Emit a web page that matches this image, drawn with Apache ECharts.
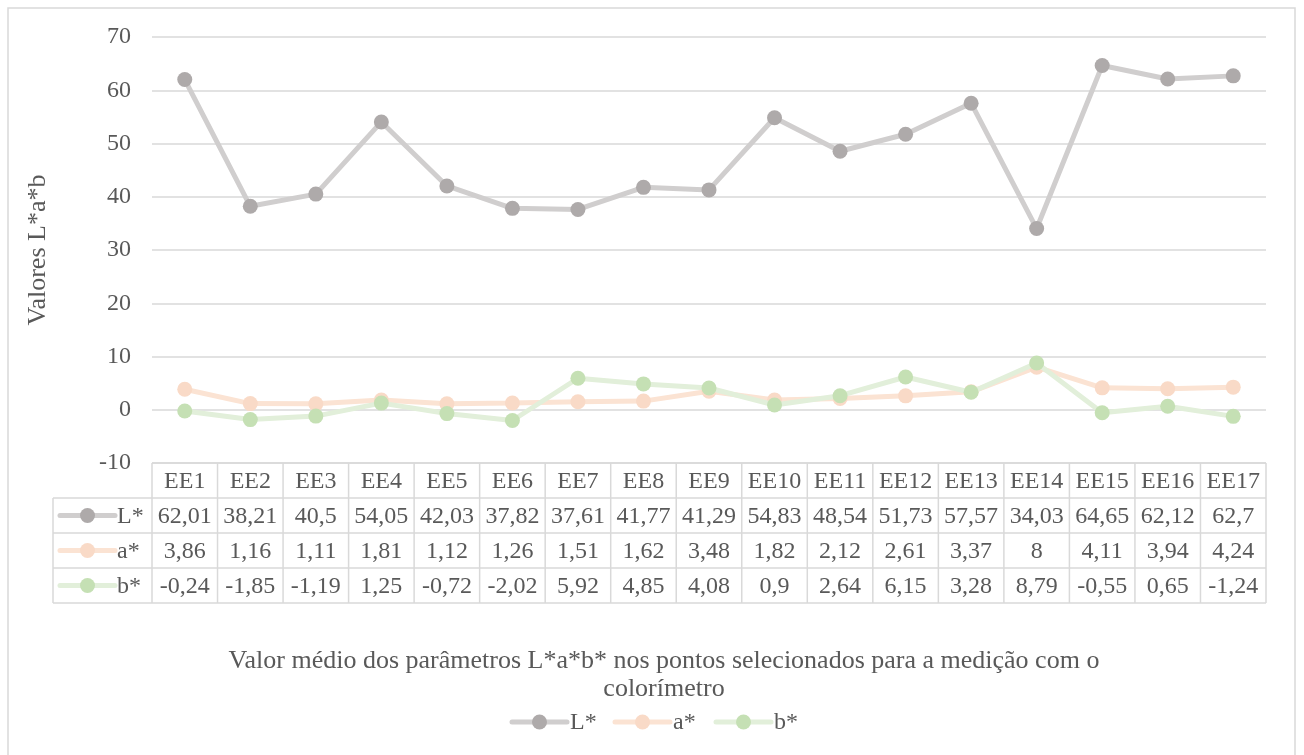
<!DOCTYPE html>
<html>
<head>
<meta charset="utf-8">
<script src="https://cdn.jsdelivr.net/npm/echarts@6/dist/echarts.min.js"></script>
<style>
  html, body { margin: 0; padding: 0; background: #ffffff; }
  #chart { width: 1304px; height: 755px; }
</style>
</head>
<body>
<div id="chart"></div>
<script>
// Pontos de medição
const categories = ['EE1','EE2','EE3','EE4','EE5','EE6','EE7','EE8','EE9','EE10','EE11','EE12','EE13','EE14','EE15','EE16','EE17'];
// Valores médios L*, a*, b*
const valuesL = [62.01, 38.21, 40.5, 54.05, 42.03, 37.82, 37.61, 41.77, 41.29, 54.83, 48.54, 51.73, 57.57, 34.03, 64.65, 62.12, 62.7];
const valuesA = [3.86, 1.16, 1.11, 1.81, 1.12, 1.26, 1.51, 1.62, 3.48, 1.82, 2.12, 2.61, 3.37, 8, 4.11, 3.94, 4.24];
const valuesB = [-0.24, -1.85, -1.19, 1.25, -0.72, -2.02, 5.92, 4.85, 4.08, 0.9, 2.64, 6.15, 3.28, 8.79, -0.55, 0.65, -1.24];
const seriesNames = ['L*', 'a*', 'b*'];
const yTicks = { min: -10, max: 70, interval: 10 };

const FONT = '"Liberation Serif", "Times New Roman", serif';
const TXT = '#595959';
const GRIDC = '#d9d9d9';
const lineColors = ['#d0cece', '#fbe3d3', '#e2efda'];
const markColors = ['#aeaaaa', '#f9dac7', '#c5e0b4'];
const seriesData = [valuesL, valuesA, valuesB];

// Valores em formato pt-BR (vírgula decimal)
const fmt = v => String(v).replace('.', ',');

const chart = echarts.init(document.getElementById('chart'), null, { renderer: 'canvas' });

const option = {
  animation: false,
  backgroundColor: '#ffffff',
  title: {
    text: 'Valor médio dos parâmetros L*a*b* nos pontos selecionados para a medição com o\ncolorímetro',
    left: 659, top: 642, textAlign: 'center',
    textStyle: { fontFamily: FONT, fontSize: 26, fontWeight: 'normal', color: TXT, lineHeight: 28 }
  },
  grid: { left: 152, right: 38, top: 37, bottom: 292, containLabel: false },
  xAxis: {
    type: 'category', data: categories, boundaryGap: true,
    axisLine: { show: false }, axisTick: { show: false }, axisLabel: { show: false }
  },
  yAxis: {
    type: 'value', min: yTicks.min, max: yTicks.max, interval: yTicks.interval,
    name: 'Valores L*a*b', nameLocation: 'middle', nameGap: 101, nameRotate: 90,
    nameTextStyle: { fontFamily: FONT, fontSize: 26, color: TXT },
    axisLine: { show: false }, axisTick: { show: false },
    axisLabel: { fontFamily: FONT, fontSize: 24, color: TXT, margin: 21 },
    splitLine: { lineStyle: { color: GRIDC, width: 1.5 } }
  },
  series: seriesNames.map((n, i) => ({
    name: n, type: 'line', data: seriesData[i],
    symbol: 'circle', symbolSize: 15, showAllSymbol: true,
    lineStyle: { color: lineColors[i], width: 5 },
    itemStyle: { color: markColors[i] },
    z: 2 + i
  }))
};
chart.setOption(option);

// Chave de série: linha grossa com marcador circular
function keyIcon(g, x, cy, r, w) {
  g.push({ type: 'line', shape: { x1: x, y1: cy, x2: x + w, y2: cy },
    style: { stroke: lineColors[r], lineWidth: 5, lineCap: 'round' }, silent: true });
  g.push({ type: 'circle', shape: { cx: x + w / 2, cy: cy, r: 7.5 }, style: { fill: markColors[r] }, silent: true });
}

// Tabela de dados sob o eixo horizontal, alinhada às categorias, e legenda
function buildTable() {
  const g = [];
  const top = chart.convertToPixel({ yAxisIndex: 0 }, yTicks.min);
  const x0 = chart.convertToPixel({ xAxisIndex: 0 }, 0);
  const x1 = chart.convertToPixel({ xAxisIndex: 0 }, 1);
  const bw = x1 - x0;
  const left = x0 - bw / 2;
  const right = left + bw * categories.length;
  const rowH = 35;
  const labelLeft = 53;
  const lineStyle = { stroke: GRIDC, lineWidth: 1.5 };
  const textStyleBase = { fontFamily: FONT, fontSize: 24, fill: TXT, align: 'center', verticalAlign: 'middle' };

  // linhas horizontais
  for (let r = 0; r <= 4; r++) {
    const y = top + r * rowH;
    g.push({ type: 'line', shape: { x1: r === 0 ? left : labelLeft, y1: y, x2: right, y2: y }, style: lineStyle, silent: true });
  }
  // linhas verticais
  for (let c = 0; c <= categories.length; c++) {
    const x = left + c * bw;
    g.push({ type: 'line', shape: { x1: x, y1: top, x2: x, y2: top + 4 * rowH }, style: lineStyle, silent: true });
  }
  g.push({ type: 'line', shape: { x1: labelLeft, y1: top + rowH, x2: labelLeft, y2: top + 4 * rowH }, style: lineStyle, silent: true });

  // cabeçalho
  categories.forEach((c, i) => {
    g.push({ type: 'text', x: chart.convertToPixel({ xAxisIndex: 0 }, i), y: top + rowH / 2 + 1,
      style: Object.assign({ text: c }, textStyleBase), silent: true });
  });
  // linhas de valores com chave da série
  seriesData.forEach((arr, r) => {
    const cy = top + (r + 1.5) * rowH;
    keyIcon(g, 60, cy, r, 55);
    g.push({ type: 'text', x: 117, y: cy + 1,
      style: Object.assign({}, textStyleBase, { text: seriesNames[r], align: 'left' }), silent: true });
    arr.forEach((v, i) => {
      g.push({ type: 'text', x: chart.convertToPixel({ xAxisIndex: 0 }, i), y: cy + 1,
        style: Object.assign({ text: fmt(v) }, textStyleBase), silent: true });
    });
  });

  // legenda
  const legendX = [512, 615, 716];
  seriesNames.forEach((n, r) => {
    const cy = 722;
    keyIcon(g, legendX[r], cy, r, 55);
    g.push({ type: 'text', x: legendX[r] + 58, y: cy + 1,
      style: Object.assign({}, textStyleBase, { text: n, align: 'left' }), silent: true });
  });

  // moldura do gráfico
  g.push({ type: 'rect', shape: { x: 8, y: 8, width: 1287, height: 760 },
    style: { fill: 'none', stroke: GRIDC, lineWidth: 1.5 }, silent: true });

  chart.setOption({ graphic: g });
}
buildTable();
</script>
</body>
</html>
